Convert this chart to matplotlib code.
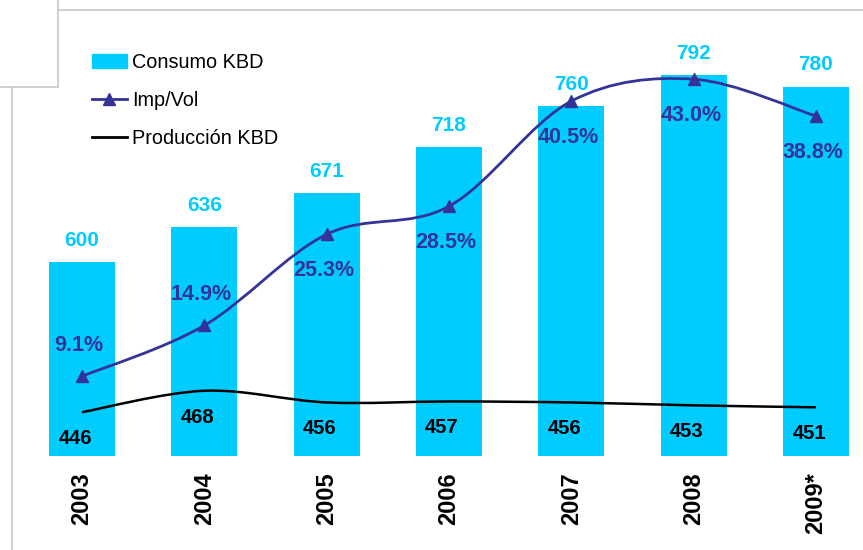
import matplotlib.pyplot as plt
from matplotlib.path import Path
from matplotlib.patches import PathPatch
from matplotlib.lines import Line2D
import numpy as np

# data
years = ["2003", "2004", "2005", "2006", "2007", "2008", "2009*"]
consumo = [600, 636, 671, 718, 760, 792, 780]
produccion = [446, 468, 456, 457, 456, 453, 451]
imp_vol = [9.1, 14.9, 25.3, 28.5, 40.5, 43.0, 38.8]
# label above (+) or below (-) the Imp/Vol marker
imp_label_side = [1, 1, -1, -1, -1, -1, -1]

BAR_COLOR = "#00CCFF"
IMP_COLOR = "#333399"
FONT = "Liberation Sans"

plt.rcParams["font.family"] = [FONT, "DejaVu Sans"]


def smooth_path(xs, ys):
    # Excel style smoothed line: cubic bezier segments (catmull-rom tangents)
    pts = np.column_stack([xs, ys]).astype(float)
    verts = [tuple(pts[0])]
    codes = [Path.MOVETO]
    n = len(pts)
    for i in range(n - 1):
        p0 = pts[max(i - 1, 0)]
        p1 = pts[i]
        p2 = pts[i + 1]
        p3 = pts[min(i + 2, n - 1)]
        c1 = p1 + (p2 - p0) / 6.0
        c2 = p2 - (p3 - p1) / 6.0
        verts += [tuple(c1), tuple(c2), tuple(p2)]
        codes += [Path.CURVE4] * 3
    return Path(verts, codes)


fig = plt.figure(figsize=(8.63, 5.5), dpi=100)
W, H = 863.0, 550.0
ax_left, ax_right, ax_top, ax_bottom = 20, 860, 10, 456
ax = fig.add_axes([ax_left / W, 1 - ax_bottom / H,
                   (ax_right - ax_left) / W, (ax_bottom - ax_top) / H])
ax2 = ax.twinx()

x = np.arange(len(years))
bars = ax.bar(x, consumo, width=0.54, color=BAR_COLOR, zorder=1)
ax.set_ylim(401, 859)
ax.set_xlim(-0.507, 6.36)
ax2.set_ylim(0, 50.9)

# production line
prod_patch = PathPatch(smooth_path(x, produccion), facecolor="none",
                       edgecolor="black", lw=1.8, zorder=3)
ax.add_patch(prod_patch)

# imp/vol line
imp_patch = PathPatch(smooth_path(x, imp_vol), facecolor="none",
                      edgecolor=IMP_COLOR, lw=2, zorder=3)
ax2.add_patch(imp_patch)
ax2.plot(x, imp_vol, linestyle="none", marker="^", markersize=9,
         color=IMP_COLOR, zorder=4)

# labels
for xi, v in zip(x, consumo):
    ax.annotate(str(v), xy=(xi, v), xytext=(0, 9), textcoords="offset points",
                ha="center", va="bottom", fontsize=15, fontweight="bold",
                color=BAR_COLOR)
for xi, v in zip(x, produccion):
    ax.annotate(str(v), xy=(xi, v), xytext=(-5, -19), textcoords="offset points",
                ha="center", va="center", fontsize=14.5, fontweight="bold",
                color="black", zorder=5)
for xi, v, s in zip(x, imp_vol, imp_label_side):
    dy = 22 if s > 0 else -26
    ax2.annotate("%.1f%%" % v, xy=(xi, v), xytext=(-2, dy),
                 textcoords="offset points", ha="center", va="center",
                 fontsize=15.5, fontweight="bold", color=IMP_COLOR, zorder=5)

ax.set_xticks(x)
ax.set_xticklabels(years, rotation=90, fontsize=17, fontweight="bold")
ax.tick_params(axis="x", length=0, pad=12)
ax.set_yticks([])
ax2.set_yticks([])
for a in (ax, ax2):
    for sp in a.spines.values():
        sp.set_visible(False)

# legend
handles = [
    plt.Rectangle((0, 0), 1, 1, color=BAR_COLOR),
    Line2D([], [], color=IMP_COLOR, lw=2, marker="^", markersize=8),
    Line2D([], [], color="black", lw=2),
]
ax.legend(handles, ["Consumo KBD", "Imp/Vol", "Producción KBD"],
          loc="upper left", bbox_to_anchor=(92 / W, 1 - 53 / H),
          bbox_transform=fig.transFigure, frameon=False, fontsize=14.3,
          handlelength=1.75, handletextpad=0.25, labelspacing=0.95,
          borderpad=0, borderaxespad=0)

# leftover frame lines from the source slide
grey = "#c8c8c8"
fig.add_artist(Line2D([58 / W, 1], [1 - 10 / H, 1 - 10 / H], color=grey, lw=1.2))
fig.add_artist(Line2D([58 / W, 58 / W], [1, 1 - 87 / H], color=grey, lw=1.2))
fig.add_artist(Line2D([0, 58 / W], [1 - 87 / H, 1 - 87 / H], color=grey, lw=1.2))
fig.add_artist(Line2D([12 / W, 12 / W], [1 - 87 / H, 0], color=grey, lw=1.2))

fig.savefig("out.png", dpi=100)
